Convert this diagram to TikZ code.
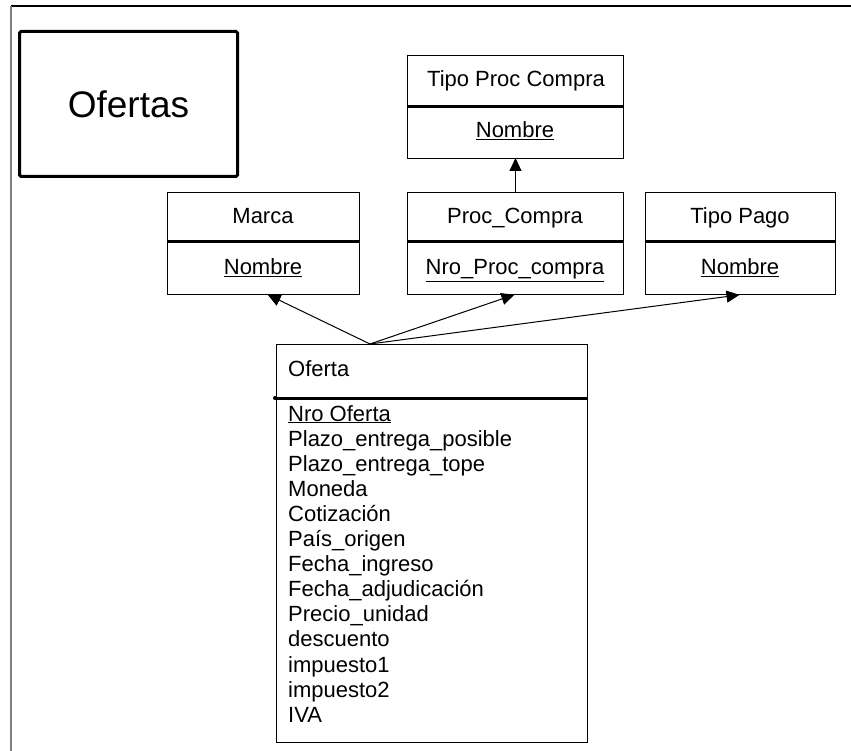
\documentclass[tikz,border=0pt]{standalone}
\usepackage{fontspec}
\setmainfont{Liberation Sans}
\usetikzlibrary{arrows.meta}

\begin{document}
\begin{tikzpicture}[x=1pt,y=-1pt,
  classbox/.style={draw, line width=1pt, inner sep=0pt, anchor=north west},
  divider/.style={line width=3pt},
  txt/.style={inner sep=0pt, anchor=base, font=\fontsize{22}{25}\selectfont},
  attr/.style={txt, anchor=base west},
  assoc/.style={line width=1pt, -{Triangle[length=13pt,width=12pt]}, shorten >=-1pt}
]
\useasboundingbox (0,0) rectangle (851,751);

% page frame
\draw[line width=1.5pt] (11,6) -- (851,6);
\draw[line width=2pt, gray] (11,6) -- (11,751);

% title box
\node[draw, line width=3pt, rounded corners=1.5pt, anchor=north west,
      minimum width=218pt, minimum height=145pt, inner sep=0pt,
      font=\fontsize{37}{44}\selectfont] (title) at (18,30) {Ofertas};

% Tipo Proc Compra
\node[classbox, minimum width=216pt, minimum height=103pt] (tpc) at (407,55) {};
\draw[divider] (tpc.west |- 0,107) -- (tpc.east |- 0,107);
\node[txt] (tpcName) at (516,87) {Tipo Proc Compra};
\node[txt] (tpcAttr) at (515,138) {\underline{Nombre}};

% Marca
\node[classbox, minimum width=192pt, minimum height=102pt] (marca) at (167,192) {};
\draw[divider] (marca.west |- 0,242) -- (marca.east |- 0,242);
\node[txt] (marcaName) at (263,224) {Marca};
\node[txt] (marcaAttr) at (263,275) {\underline{Nombre}};

% Proc_Compra
\node[classbox, minimum width=216pt, minimum height=102pt] (proc) at (407,192) {};
\draw[divider] (proc.west |- 0,242) -- (proc.east |- 0,242);
\node[txt] (procName) at (515,224) {Proc\_Compra};
\node[txt] (procAttr) at (515,275) {\underline{Nro\_Proc\_compra}};

% Tipo Pago
\node[classbox, minimum width=190pt, minimum height=102pt] (pago) at (645,192) {};
\draw[divider] (pago.west |- 0,242) -- (pago.east |- 0,242);
\node[txt] (pagoName) at (740,224) {Tipo Pago};
\node[txt] (pagoAttr) at (740,275) {\underline{Nombre}};

% Oferta
\node[classbox, minimum width=311pt, minimum height=398pt] (oferta) at (276,344) {};
\draw[divider] (274,398) -- (oferta.east |- 0,398);
\fill (275,398) circle (2pt);
\node[attr] (ofName) at (288,376) {Oferta};
\foreach \t [count=\i from 0] in {\underline{Nro Oferta}, Plazo\_entrega\_posible,
    Plazo\_entrega\_tope, Moneda, Cotización, País\_origen, Fecha\_ingreso,
    Fecha\_adjudicación, Precio\_unidad, descuento, impuesto1, impuesto2, IVA}
  \node[attr] (ofAttr\i) at (288,421+25.1*\i) {\t};

% associations
\coordinate (ofTop) at (370,344);
\draw[assoc] (ofTop) -- ([xshift=5pt]marca.south);
\draw[assoc] (ofTop) -- ([xshift=-2pt]proc.south);
\draw[assoc] (ofTop) -- ([xshift=-2pt]pago.south);
\draw[assoc] (proc.north) -- (tpc.south);
\end{tikzpicture}
\end{document}
